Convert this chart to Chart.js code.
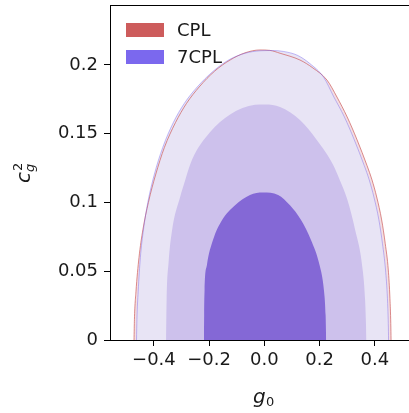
<!DOCTYPE html>
<html>
<head>
<meta charset="utf-8">
<script src="https://cdn.jsdelivr.net/npm/chart.js@4"></script>
<style>
	html, body { margin: 0; padding: 0; background: #fff; }
	canvas { display: block; }
</style>
</head>
<body>
<canvas id="contourChart" width="409" height="413"></canvas>
<script>
// ticks
var xTicks = [-0.4, -0.2, 0, 0.2, 0.4];
var xTickLabels = ['\u22120.4', '\u22120.2', '0.0', '0.2', '0.4'];
var yTicks = [0, 0.05, 0.1, 0.15, 0.2];
var yTickLabels = ['0', '0.05', '0.1', '0.15', '0.2'];
var seriesNames = ['CPL', '7CPL'];

// contour boundaries [g0, cg2] (x strictly increasing)
var cplOuter = [[-0.472, 0], [-0.4705, 0.015], [-0.465, 0.035], [-0.454, 0.06], [-0.440, 0.08], [-0.420, 0.10],
	[-0.394, 0.12], [-0.362, 0.14], [-0.322, 0.158], [-0.282, 0.172], [-0.236, 0.184], [-0.180, 0.1955],
	[-0.124, 0.2036], [-0.070, 0.2088], [-0.016, 0.2109], [0.020, 0.2106], [0.057, 0.2085], [0.129, 0.2036],
	[0.176, 0.1978], [0.227, 0.189], [0.263, 0.1767], [0.300, 0.1622], [0.336, 0.1455], [0.372, 0.1268],
	[0.390, 0.1164], [0.407, 0.104], [0.425, 0.0873], [0.438, 0.07], [0.449, 0.0509], [0.455, 0.03],
	[0.458, 0.012], [0.459, 0]];
var cplMiddle = [[-0.372, 0], [-0.368, 0.029], [-0.356, 0.056], [-0.338, 0.080], [-0.308, 0.104], [-0.288, 0.116],
	[-0.262, 0.131], [-0.197, 0.152], [-0.124, 0.165], [-0.034, 0.172], [0.003, 0.1722], [0.057, 0.170],
	[0.129, 0.161], [0.190, 0.146], [0.249, 0.1285], [0.274, 0.1165], [0.300, 0.1025], [0.330, 0.080],
	[0.355, 0.056], [0.367, 0.029], [0.372, 0]];
var cplInner = [[-0.222, 0], [-0.2215, 0.018], [-0.219, 0.036], [-0.210, 0.0545], [-0.188, 0.0735], [-0.155, 0.0885],
	[-0.107, 0.0995], [-0.052, 0.1075], [-0.003, 0.1092], [0.050, 0.1075], [0.094, 0.0995], [0.134, 0.0885],
	[0.171, 0.0735], [0.202, 0.0545], [0.219, 0.036], [0.225, 0.018], [0.227, 0]];
var c7Outer = [[-0.463, 0], [-0.4615, 0.015], [-0.457, 0.035], [-0.449, 0.06], [-0.438, 0.08], [-0.422, 0.10],
	[-0.399, 0.12], [-0.368, 0.14], [-0.330, 0.158], [-0.290, 0.172], [-0.243, 0.184], [-0.185, 0.1955],
	[-0.126, 0.2040], [-0.070, 0.2085], [-0.016, 0.2103], [0.030, 0.2105], [0.070, 0.2098], [0.120, 0.2070],
	[0.165, 0.2010], [0.215, 0.191], [0.252, 0.1767], [0.290, 0.1622], [0.326, 0.1455], [0.362, 0.1268],
	[0.380, 0.1164], [0.397, 0.104], [0.415, 0.0873], [0.428, 0.07], [0.439, 0.0509], [0.446, 0.03],
	[0.449, 0.012], [0.450, 0]];
var c7Middle = [[-0.356, 0], [-0.354, 0.029], [-0.347, 0.056], [-0.334, 0.080], [-0.305, 0.104], [-0.287, 0.116],
	[-0.262, 0.131], [-0.197, 0.151], [-0.124, 0.164], [-0.034, 0.171], [0.003, 0.1713], [0.057, 0.1695],
	[0.129, 0.160], [0.190, 0.1455], [0.249, 0.1275], [0.274, 0.1160], [0.300, 0.1025], [0.329, 0.080],
	[0.353, 0.056], [0.365, 0.029], [0.370, 0]];
var c7Inner = [[-0.2185, 0], [-0.218, 0.018], [-0.2165, 0.036], [-0.208, 0.0545], [-0.186, 0.0727], [-0.153, 0.0873],
	[-0.106, 0.098], [-0.052, 0.1055], [-0.005, 0.1073], [0.050, 0.1055], [0.093, 0.098], [0.133, 0.0873],
	[0.169, 0.0727], [0.200, 0.0545], [0.216, 0.036], [0.222, 0.018], [0.224, 0]];

function pts(arr) {
	return arr.map(function (p) { return { x: p[0], y: p[1] }; });
}

function area(data, color, order) {
	return { data: pts(data), backgroundColor: color, borderWidth: 0, fill: 'origin', pointRadius: 0,
		cubicInterpolationMode: 'monotone', order: order };
}

function edge(data, color, order) {
	return { data: pts(data), borderColor: color, borderWidth: 1, fill: false, pointRadius: 0,
		cubicInterpolationMode: 'monotone', order: order };
}

var legendColors = ['#cd5c5c', '#7b68ee'];

// legend, top spine and axis titles
var extras = {
	id: 'extras',
	afterDraw: function (chart) {
		var c = chart.ctx;
		var a = chart.chartArea;
		c.save();
		c.strokeStyle = '#000';
		c.lineWidth = 1;
		c.beginPath();
		c.moveTo(a.left, a.top + 0.5);
		c.lineTo(a.right, a.top + 0.5);
		c.stroke();

		c.font = '18px "DejaVu Sans"';
		c.textBaseline = 'middle';
		c.textAlign = 'left';
		for (var i = 0; i < seriesNames.length; i++) {
			var y = 23 + i * 27;
			c.fillStyle = legendColors[i];
			c.fillRect(126, y, 38, 14);
			c.fillStyle = '#1a1a1a';
			c.fillText(seriesNames[i], 177, y + 8);
		}

		// x title g_0
		c.textBaseline = 'alphabetic';
		c.font = 'italic 20px "DejaVu Sans"';
		c.fillText('g', 253, 403);
		c.font = '13px "DejaVu Sans"';
		c.fillText('0', 266, 406);

		// y title c_g^2
		c.translate(30, 183);
		c.rotate(-Math.PI / 2);
		c.font = 'italic 20px "DejaVu Sans"';
		c.fillText('c', 0, 0);
		c.font = '13px "DejaVu Sans"';
		c.fillText('2', 12, -8);
		c.font = 'italic 13px "DejaVu Sans"';
		c.fillText('g', 11, 4);
		c.restore();
	}
};

var tickFont = { size: 18, family: 'DejaVu Sans' };

var ctx = document.getElementById('contourChart').getContext('2d');

var contourChart = new Chart(ctx, {
	type: 'line',
	data: {
		datasets: [
			edge(c7Outer, 'rgba(123,104,238,0.45)', 0),
			edge(cplOuter, 'rgba(205,92,92,0.7)', 1),
			area(c7Inner, '#8468d6', 2),
			area(c7Middle, '#cdc1ec', 3),
			area(c7Outer, '#e8e4f5', 4),
			area(cplInner, '#d9b8d8', 5),
			area(cplMiddle, '#ecd2dc', 6),
			area(cplOuter, '#f3dfe3', 7)
		]
	},
	options: {
		responsive: false,
		animation: false,
		layout: { padding: { top: 5, left: 0, right: 0, bottom: 0 } },
		plugins: {
			legend: { display: false },
			tooltip: { enabled: false }
		},
		scales: {
			x: {
				type: 'linear',
				min: -0.559,
				max: 0.524,
				afterBuildTicks: function (s) { s.ticks = xTicks.map(function (v) { return { value: v }; }); },
				afterFit: function (s) { s.height = 73; s.paddingLeft = 0; s.paddingRight = 0; },
				ticks: {
					font: tickFont, color: '#1a1a1a', padding: 4, maxRotation: 0, autoSkip: false,
					callback: function (v) { return xTickLabels[xTicks.indexOf(v)]; }
				},
				grid: { drawOnChartArea: false, drawTicks: true, tickLength: 6, color: '#000' },
				border: { display: true, color: '#000', width: 1 }
			},
			y: {
				min: 0,
				max: 0.2436,
				afterBuildTicks: function (s) { s.ticks = yTicks.map(function (v) { return { value: v }; }); },
				afterFit: function (s) { s.width = 110; s.paddingTop = 0; s.paddingBottom = 0; },
				ticks: {
					font: tickFont, color: '#1a1a1a', padding: 6, autoSkip: false,
					callback: function (v) { return yTickLabels[yTicks.indexOf(v)]; }
				},
				grid: { drawOnChartArea: false, drawTicks: true, tickLength: 6, color: '#000' },
				border: { display: true, color: '#000', width: 1 }
			}
		}
	},
	plugins: [extras]
});
</script>
</body>
</html>
